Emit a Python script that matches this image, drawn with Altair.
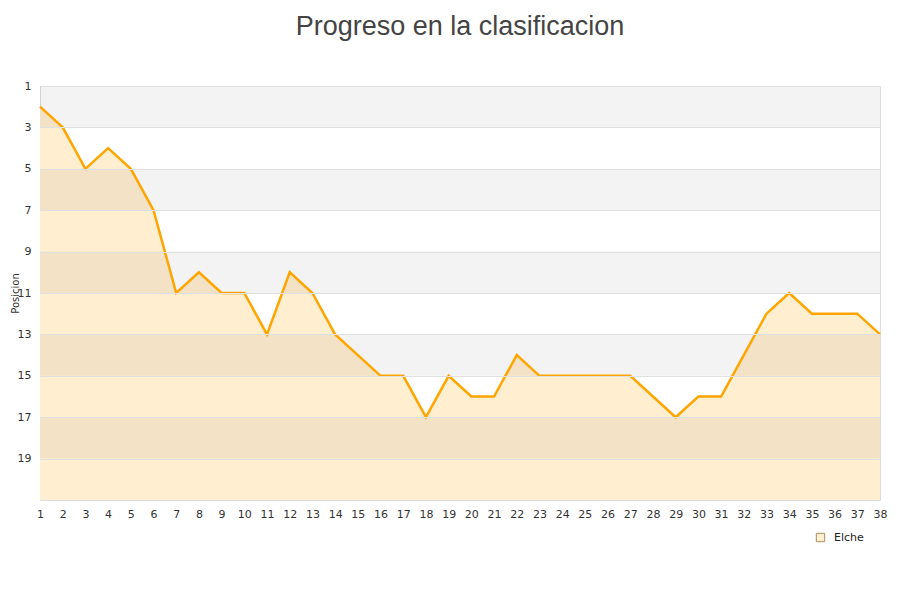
import altair as alt
import pandas as pd

jornadas = list(range(1, 39))
posiciones = [2, 3, 5, 4, 5, 7, 11, 10, 11, 11, 13, 10, 11, 13, 14, 15, 15, 17, 15, 16,
              16, 14, 15, 15, 15, 15, 15, 16, 17, 16, 16, 14, 12, 11, 12, 12, 12, 13]
equipo = "Elche"
y_ticks = [1, 3, 5, 7, 9, 11, 13, 15, 17, 19]
band_start = [1, 5, 9, 13, 17]
band_end = [3, 7, 11, 15, 19]

df = pd.DataFrame({"jornada": jornadas, "pos": posiciones, "serie": [equipo] * len(jornadas)})
bands = pd.DataFrame({"y1": band_start, "y2": band_end})

xscale = alt.Scale(domain=[1, 38], nice=False, zero=False)
yscale = alt.Scale(domain=[1, 21], reverse=True, nice=False, zero=False)

xaxis = alt.Axis(values=jornadas, title=None, ticks=False, domain=False, grid=False,
                 labelFontSize=11, labelColor="#333", labelPadding=8,
                 labelFont="DejaVu Sans", format="d", labelFlush=False,
                 labelOverlap=False)
yaxis = alt.Axis(values=y_ticks, title="Posicion", ticks=False, domain=False,
                 grid=True, gridColor="#e0e0e0", labelFontSize=11, labelColor="#333",
                 labelPadding=9, labelFont="DejaVu Sans", titleFont="DejaVu Sans",
                 titleFontSize=10, titleFontWeight="normal", titleColor="#333",
                 titleX=-25, titleY=207, titleAngle=-90, titleAlign="center",
                 titleBaseline="middle", zindex=1, labelOverlap=False)

area = alt.Chart(df).mark_area(opacity=1, interpolate="linear").encode(
    x=alt.X("jornada:Q", scale=xscale, axis=xaxis),
    y=alt.Y("pos:Q", scale=yscale, axis=yaxis),
    y2=alt.datum(21),
    fill=alt.Fill("serie:N", scale=alt.Scale(range=["#ffeecf"]),
                  legend=alt.Legend(title=None, orient="none", legendX=775, legendY=446,
                                    symbolType="square", symbolSize=70,
                                    symbolStrokeColor="#a89066", symbolStrokeWidth=1,
                                    labelFontSize=11, labelColor="#222",
                                    labelFont="DejaVu Sans", labelOffset=8)),
)

rects = alt.Chart(bands).mark_rect(color="black", opacity=0.047).encode(
    x=alt.value(0), x2=alt.value(840),
    y=alt.Y("y1:Q", scale=yscale, axis=yaxis), y2="y2:Q",
)

line = alt.Chart(df).mark_line(color="#ffa500", strokeWidth=2.5).encode(
    x=alt.X("jornada:Q", scale=xscale, axis=xaxis),
    y=alt.Y("pos:Q", scale=yscale, axis=yaxis),
)

chart = alt.layer(area, rects, line).properties(
    width=840, height=414,
    title=alt.TitleParams("Progreso en la clasificacion", fontSize=27, font="Liberation Sans",
                          fontWeight="normal", color="#444", anchor="middle", offset=39),
    autosize=alt.AutoSizeParams(type="none"),
    padding={"left": 32, "top": 78, "right": 12, "bottom": 80},
).configure_view(stroke="#dddddd", strokeWidth=1).configure(background="white"
).configure_axisX(labelOverlap=False)

chart.save("out.html", embed_options={"renderer": "svg", "actions": False})
